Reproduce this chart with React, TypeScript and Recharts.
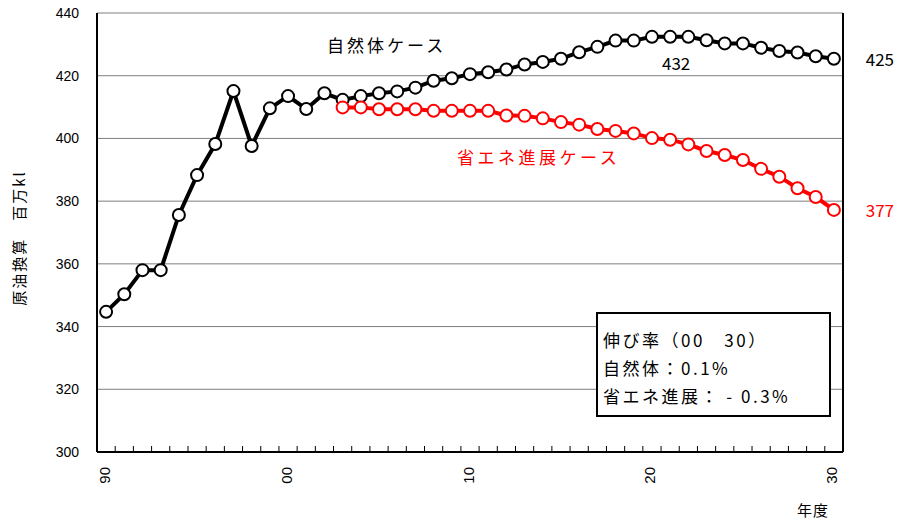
import React from 'react';
import { LineChart, Line, XAxis, YAxis, CartesianGrid, LabelList } from 'recharts';

const years = [
  1990, 1991, 1992, 1993, 1994, 1995, 1996, 1997, 1998, 1999,
  2000, 2001, 2002, 2003, 2004, 2005, 2006, 2007, 2008, 2009,
  2010, 2011, 2012, 2013, 2014, 2015, 2016, 2017, 2018, 2019,
  2020, 2021, 2022, 2023, 2024, 2025, 2026, 2027, 2028, 2029, 2030,
];

const naturalCase = [
  344.7, 350.3, 358.0, 358.0, 375.6, 388.3, 398.2, 415.1, 397.6, 409.6,
  413.5, 409.4, 414.4, 412.3, 413.5, 414.4, 415.0, 416.2, 418.4, 419.2,
  420.5, 421.1, 422.0, 423.6, 424.4, 425.4, 427.5, 429.2, 431.2, 431.2,
  432.4, 432.4, 432.4, 431.3, 430.3, 430.3, 428.9, 427.9, 427.4, 426.2, 425.4,
];

const savingCase = [
  null, null, null, null, null, null, null, null, null, null,
  null, null, null, 409.9, 409.9, 409.3, 409.3, 409.3, 408.8, 408.8,
  408.8, 408.8, 407.3, 407.2, 406.4, 405.2, 404.4, 403.0, 402.4, 401.6,
  400.1, 399.6, 398.1, 396.0, 394.7, 393.1, 390.3, 387.8, 384.1, 381.3, 377.2,
];

const yTicks = [300, 320, 340, 360, 380, 400, 420, 440];
const xTicks = [1990, 2000, 2010, 2020, 2030];
const xTickLabels = ['90', '00', '10', '20', '30'];

const data = years.map((year, i) => ({
  year,
  natural: naturalCase[i],
  saving: savingCase[i],
}));

const minorTicks = years.slice(1).map((y) => y - 0.5);
const allTicks = [...xTicks, ...minorTicks].sort((a, b) => a - b);

const JP = '"Noto Sans CJK JP", "Noto Sans", sans-serif';
const NUM = '"Liberation Sans", Arial, sans-serif';

const XTick = (props: any) => {
  const { x, y, payload } = props;
  const idx = xTicks.indexOf(payload.value);
  if (idx < 0) {
    return <line x1={x} x2={x} y1={y - 1} y2={y - 6} stroke="#000" strokeWidth={1} />;
  }
  const label = xTickLabels[idx];
  const tx = x - 2;
  const ty = y + 15;
  return (
    <text
      x={tx}
      y={ty}
      transform={`rotate(-90 ${tx} ${ty})`}
      textAnchor="end"
      dominantBaseline="central"
      fontSize={15}
      fontFamily={NUM}
      fill="#000"
    >
      {label}
    </text>
  );
};

const YLabel = () => (
  <text
    x={18}
    y={238}
    transform="rotate(-90 18 238)"
    textAnchor="middle"
    dominantBaseline="central"
    fontSize={15}
    fontFamily={JP}
    letterSpacing={2}
    fill="#000"
  >
    原油換算　百万kl
  </text>
);

const endLabel = (color: string) => (props: any) => {
  const { x, y, index, value } = props;
  if (index !== years.length - 1) return null;
  return (
    <text
      x={x + 46}
      y={y}
      textAnchor="middle"
      dominantBaseline="central"
      fontSize={17}
      fontFamily={JP}
      fill={color}
    >
      {Math.round(value)}
    </text>
  );
};

const peakLabel = (props: any) => {
  const { x, y, index, value } = props;
  if (index !== 31) return null;
  return (
    <text
      x={x + 6}
      y={y + 26}
      textAnchor="middle"
      dominantBaseline="central"
      fontSize={17}
      fontFamily={JP}
      fill="#000"
    >
      {Math.round(value)}
    </text>
  );
};

export default function App() {
  return (
    <div style={{ position: 'absolute', left: 0, top: 0, width: 897, height: 520, background: '#fff' }}>
      <LineChart
        width={897}
        height={520}
        data={data}
        margin={{ top: 13, right: 0, bottom: 0, left: 0 }}
      >
        <CartesianGrid vertical={false} stroke="#7f7f7f" strokeWidth={1} />
        <XAxis
          dataKey="year"
          type="number"
          domain={[1989.5, 2030.5]}
          ticks={allTicks}
          interval={0}
          tickLine={false}
          tickSize={0}
          tickMargin={0}
          axisLine={{ stroke: '#000', strokeWidth: 2 }}
          tick={<XTick />}
          height={68}
        />
        <YAxis
          domain={[300, 440]}
          ticks={yTicks}
          interval={0}
          width={97}
          tickLine={false}
          axisLine={{ stroke: '#000', strokeWidth: 2 }}
          tick={{ fontSize: 14, fontFamily: NUM, fill: '#000' }}
          tickMargin={12}
          label={<YLabel />}
        />
        <YAxis
          yAxisId="right"
          orientation="right"
          domain={[300, 440]}
          width={54}
          tick={false}
          tickLine={false}
          axisLine={{ stroke: '#000', strokeWidth: 2 }}
        />
        <Line
          dataKey="natural"
          stroke="#000"
          strokeWidth={4}
          dot={{ r: 6, fill: '#fff', stroke: '#000', strokeWidth: 2 }}
          isAnimationActive={false}
        >
          <LabelList dataKey="natural" content={endLabel('#000')} />
          <LabelList dataKey="natural" content={peakLabel} />
        </Line>
        <Line
          dataKey="saving"
          stroke="#ff0000"
          strokeWidth={4}
          dot={{ r: 6, fill: '#fff', stroke: '#ff0000', strokeWidth: 2 }}
          isAnimationActive={false}
        >
          <LabelList dataKey="saving" content={endLabel('#ff0000')} />
        </Line>
      </LineChart>
      <div
        style={{
          position: 'absolute', left: 327, top: 33, fontFamily: JP, fontSize: 17,
          letterSpacing: 3, color: '#000', lineHeight: '24px', whiteSpace: 'nowrap',
        }}
      >
        自然体ケース
      </div>
      <div
        style={{
          position: 'absolute', left: 457, top: 145, fontFamily: JP, fontSize: 17,
          letterSpacing: 3.5, color: '#ff0000', lineHeight: '24px', whiteSpace: 'nowrap',
        }}
      >
        省エネ進展ケース
      </div>
      <div
        style={{
          position: 'absolute', left: 596, top: 312, width: 235, height: 105,
          border: '2px solid #000', background: '#fff', fontFamily: JP, fontSize: 17,
          letterSpacing: 2.5, color: '#000', lineHeight: '28px', padding: '12px 0 0 5px',
          boxSizing: 'border-box', whiteSpace: 'nowrap',
        }}
      >
        <div>伸び率（00　30）</div>
        <div>自然体：0.1%</div>
        <div>省エネ進展： - 0.3%</div>
      </div>
      <div
        style={{
          position: 'absolute', left: 797, top: 498, fontFamily: JP, fontSize: 15,
          letterSpacing: 1, color: '#000', lineHeight: '24px', whiteSpace: 'nowrap',
        }}
      >
        年度
      </div>
    </div>
  );
}
